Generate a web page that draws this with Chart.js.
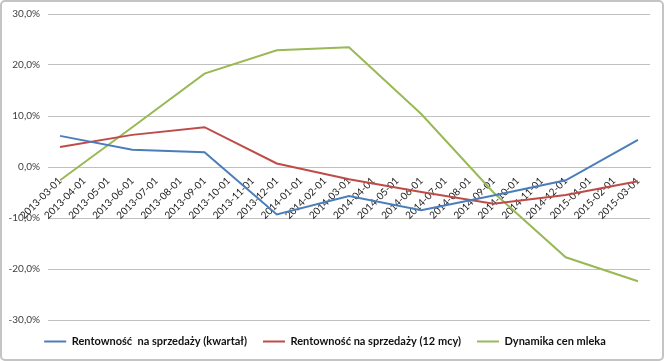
<!DOCTYPE html>
<html>
<head>
<meta charset="utf-8">
<script src="https://cdn.jsdelivr.net/npm/chart.js@4"></script>
<style>
  html, body { margin: 0; padding: 0; background: #fff; }
  #box {
    position: relative;
    width: 664px; height: 361px;
    box-sizing: border-box;
    border: 2px solid #c4c4c4;
    border-radius: 5px;
  }
  #chart { position: absolute; left: -2px; top: -2px; }
</style>
</head>
<body>
<div id="box"><canvas id="chart" width="664" height="361"></canvas></div>
<script>
const miesiace = [
  "2013-03-01","2013-04-01","2013-05-01","2013-06-01","2013-07-01","2013-08-01",
  "2013-09-01","2013-10-01","2013-11-01","2013-12-01","2014-01-01","2014-02-01",
  "2014-03-01","2014-04-01","2014-05-01","2014-06-01","2014-07-01","2014-08-01",
  "2014-09-01","2014-10-01","2014-11-01","2014-12-01","2015-01-01","2015-02-01",
  "2015-03-01"
];

// dane kwartalne, miesiace posrednie puste
const rentKwartal = [6.1,null,null,3.4,null,null,2.9,null,null,-9.3,null,null,
  -5.7,null,null,-8.5,null,null,-5.6,null,null,-2.6,null,null,5.3];
const rent12 = [3.9,null,null,6.3,null,null,7.8,null,null,0.7,null,null,
  -2.4,null,null,-4.9,null,null,-7.2,null,null,-5.5,null,null,-2.8];
const dynamikaMleka = [-2.6,null,null,7.8,null,null,18.3,null,null,22.9,null,null,
  23.5,null,null,10.4,null,null,-5.0,null,null,-17.7,null,null,-22.4];

const yTicks = [-30, -20, -10, 0, 10, 20, 30];

const font = "Lato";

function seria(label, data, color) {
  return {
    label: label,
    data: data,
    borderColor: color,
    backgroundColor: color,
    borderWidth: 2,
    pointRadius: 0,
    pointStyle: "line",
    spanGaps: true,
    tension: 0
  };
}

new Chart(document.getElementById("chart"), {
  type: "line",
  data: {
    labels: miesiace,
    datasets: [
      seria("Rentowność  na sprzedaży (kwartał)", rentKwartal, "#4a7ebb"),
      seria("Rentowność na sprzedaży (12 mcy)", rent12, "#be4b48"),
      seria("Dynamika cen mleka", dynamikaMleka, "#98b954")
    ]
  },
  options: {
    responsive: false,
    animation: false,
    layout: { padding: { left: 0, right: 14, top: 10, bottom: 4 } },
    plugins: {
      tooltip: { enabled: false },
      legend: {
        position: "bottom",
        labels: {
          usePointStyle: true,
          pointStyleWidth: 22,
          boxHeight: 10,
          padding: 16,
          color: "#111",
          font: { family: font, size: 11, weight: "bold" }
        }
      }
    },
    scales: {
      x: {
        type: "category",
        position: { y: 0 },
        offset: true,
        grid: { display: false },
        border: { display: true, color: "#c0c0c0" },
        ticks: {
          autoSkip: false,
          minRotation: 45,
          maxRotation: 45,
          padding: 0,
          color: "#1a1a1a",
          font: { family: font, size: 10 }
        }
      },
      y: {
        min: -30,
        max: 30,
        afterBuildTicks: s => { s.ticks = yTicks.map(v => ({ value: v })); },
        afterFit: s => { s.width = 48; },
        grid: { color: "#c0c0c0", drawTicks: false },
        border: { display: false },
        ticks: {
          padding: 8,
          color: "#404040",
          font: { family: font, size: 10 },
          callback: v => v.toFixed(1).replace(".", ",") + "%"
        }
      }
    }
  }
});
</script>
</body>
</html>
